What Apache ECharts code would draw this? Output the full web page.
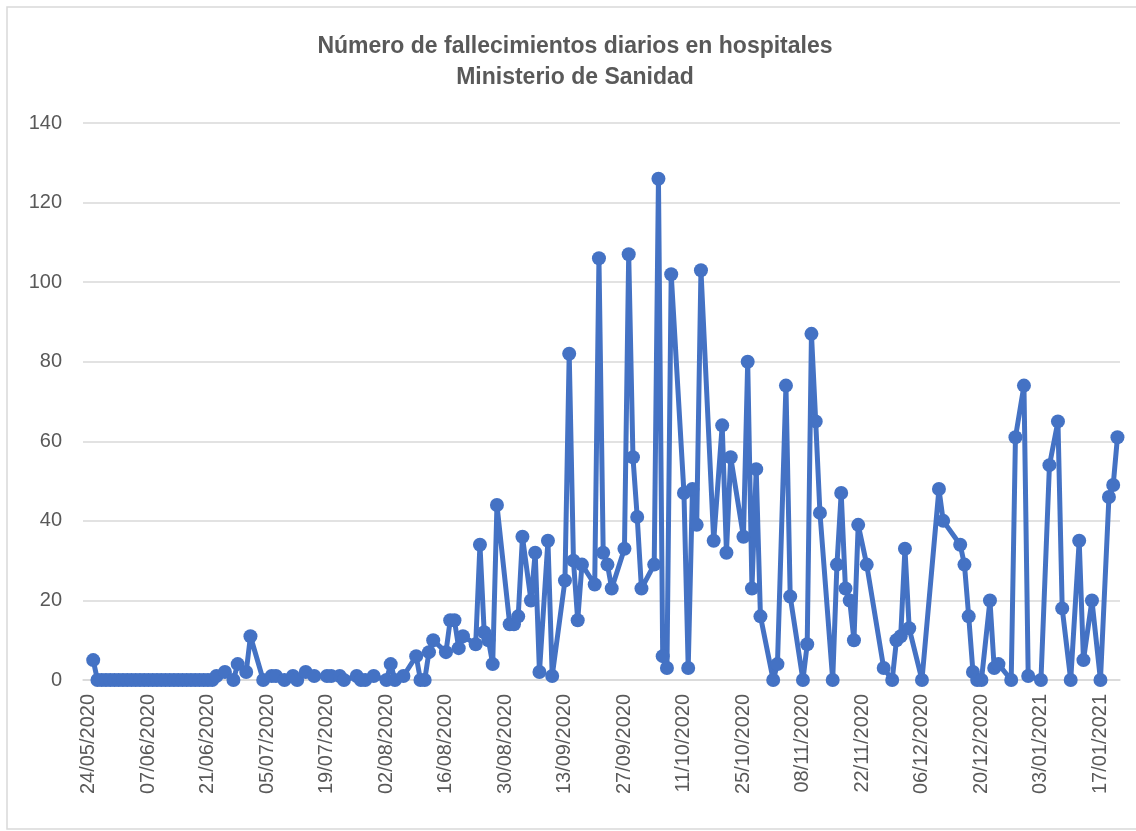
<!DOCTYPE html>
<html>
<head>
<meta charset="utf-8">
<script src="https://cdn.jsdelivr.net/npm/echarts@6/dist/echarts.min.js"></script>
<style>
html,body{margin:0;padding:0;background:#fff;}
#chart{width:1136px;height:831px;}
</style>
</head>
<body>
<div id="chart"></div>
<script>
// ---- DATA ----
var titleText = 'Número de fallecimientos diarios en hospitales';
var subtitleText = 'Ministerio de Sanidad';
var axisStartDate = '24/05/2020';
var tickLabels = ['24/05/2020','07/06/2020','21/06/2020','05/07/2020','19/07/2020','02/08/2020',
  '16/08/2020','30/08/2020','13/09/2020','27/09/2020','11/10/2020','25/10/2020','08/11/2020',
  '22/11/2020','06/12/2020','20/12/2020','03/01/2021','17/01/2021'];
var yTicks = [0, 20, 40, 60, 80, 100, 120, 140];

var dates = [
  '25/05/2020','26/05/2020','27/05/2020','28/05/2020','29/05/2020','30/05/2020','31/05/2020',
  '01/06/2020','02/06/2020','03/06/2020','04/06/2020','05/06/2020','06/06/2020','07/06/2020',
  '08/06/2020','09/06/2020','10/06/2020','11/06/2020','12/06/2020','13/06/2020','14/06/2020',
  '15/06/2020','16/06/2020','17/06/2020','18/06/2020','19/06/2020','20/06/2020','21/06/2020',
  '22/06/2020','23/06/2020','25/06/2020','27/06/2020','28/06/2020','30/06/2020',
  '01/07/2020','04/07/2020','06/07/2020','07/07/2020','09/07/2020','11/07/2020','12/07/2020',
  '14/07/2020','16/07/2020','19/07/2020','20/07/2020','22/07/2020','23/07/2020','26/07/2020',
  '27/07/2020','28/07/2020','30/07/2020',
  '02/08/2020','03/08/2020','04/08/2020','06/08/2020','09/08/2020','10/08/2020','11/08/2020',
  '12/08/2020','13/08/2020','16/08/2020','17/08/2020','18/08/2020','19/08/2020','20/08/2020',
  '23/08/2020','24/08/2020','25/08/2020','26/08/2020','27/08/2020','28/08/2020','31/08/2020',
  '01/09/2020','02/09/2020','03/09/2020','05/09/2020','06/09/2020','07/09/2020','09/09/2020',
  '10/09/2020','13/09/2020','14/09/2020','15/09/2020','16/09/2020','17/09/2020','20/09/2020',
  '21/09/2020','22/09/2020','23/09/2020','24/09/2020','27/09/2020','28/09/2020','29/09/2020',
  '30/09/2020',
  '01/10/2020','04/10/2020','05/10/2020','06/10/2020','07/10/2020','08/10/2020','11/10/2020',
  '12/10/2020','13/10/2020','14/10/2020','15/10/2020','18/10/2020','20/10/2020','21/10/2020',
  '22/10/2020','25/10/2020','26/10/2020','27/10/2020','28/10/2020','29/10/2020',
  '01/11/2020','02/11/2020','04/11/2020','05/11/2020','08/11/2020','09/11/2020','10/11/2020',
  '11/11/2020','12/11/2020','15/11/2020','16/11/2020','17/11/2020','18/11/2020','19/11/2020',
  '20/11/2020','21/11/2020','23/11/2020','27/11/2020','29/11/2020','30/11/2020',
  '01/12/2020','02/12/2020','03/12/2020','06/12/2020','10/12/2020','11/12/2020','15/12/2020',
  '16/12/2020','17/12/2020','18/12/2020','19/12/2020','20/12/2020','22/12/2020','23/12/2020',
  '24/12/2020','27/12/2020','28/12/2020','30/12/2020','31/12/2020',
  '03/01/2021','05/01/2021','07/01/2021','08/01/2021','10/01/2021','12/01/2021','13/01/2021',
  '15/01/2021','17/01/2021','19/01/2021','20/01/2021','21/01/2021'
];
var deaths = [
  5,0,0,0,0,0,0,
  0,0,0,0,0,0,0,
  0,0,0,0,0,0,0,
  0,0,0,0,0,0,0,
  0,1,2,0,4,2,
  11,0,1,1,0,1,0,
  2,1,1,1,1,0,1,
  0,0,1,
  0,4,0,1,6,0,0,
  7,10,7,15,15,8,11,
  9,34,12,10,4,44,14,
  14,16,36,20,32,2,35,
  1,25,82,30,15,29,24,
  106,32,29,23,33,107,56,
  41,
  23,29,126,6,3,102,47,
  3,48,39,103,35,64,32,
  56,36,80,23,53,16,
  0,4,74,21,0,9,87,
  65,42,0,29,47,23,20,
  10,39,29,3,0,10,
  11,33,13,0,48,40,34,
  29,16,2,0,0,20,3,
  4,0,61,74,1,
  0,54,65,18,0,35,5,
  20,0,46,49,61
];

// ---- helpers ----
function dayIndex(s) {
  var p = s.split('/');
  var b = axisStartDate.split('/');
  var t = Date.UTC(+p[2], +p[1] - 1, +p[0]);
  var t0 = Date.UTC(+b[2], +b[1] - 1, +b[0]);
  return Math.round((t - t0) / 86400000);
}
var tickDays = tickLabels.map(dayIndex);
var labelByDay = {};
tickLabels.forEach(function (l, i) { labelByDay[tickDays[i]] = l; });
var seriesData = dates.map(function (d, i) { return [dayIndex(d), deaths[i]]; });

var FONT = '"Liberation Sans", Arial, sans-serif';
var chart = echarts.init(document.getElementById('chart'), null, {renderer: 'canvas'});
chart.setOption({
  animation: false,
  backgroundColor: '#ffffff',
  title: {
    text: titleText + '\n' + subtitleText,
    left: 570,
    top: 26,
    textAlign: 'center',
    textStyle: {
      fontFamily: FONT, fontSize: 23, fontWeight: 'bold', color: '#595959', lineHeight: 31,
      align: 'center'
    }
  },
  graphic: [{
    type: 'rect',
    shape: {x: 7, y: 7, width: 1150, height: 822},
    style: {fill: 'none', stroke: '#d9d9d9', lineWidth: 1.5},
    silent: true
  }],
  grid: {left: 83, right: 16, top: 123, bottom: 151, containLabel: false},
  xAxis: {
    type: 'value',
    min: -1.4,
    max: 242.6,
    splitLine: {show: false},
    axisLine: {show: true, onZero: false, lineStyle: {color: '#d9d9d9', width: 1.5}},
    axisTick: {show: false},
    axisLabel: {
      customValues: tickDays,
      rotate: 90,
      margin: 14,
      fontFamily: FONT, fontSize: 20, color: '#595959',
      formatter: function (v) { return labelByDay[Math.round(v)] || ''; }
    }
  },
  yAxis: {
    type: 'value',
    min: yTicks[0],
    max: yTicks[yTicks.length - 1],
    interval: yTicks[1] - yTicks[0],
    axisLine: {show: false},
    axisTick: {show: false},
    splitLine: {lineStyle: {color: '#d9d9d9', width: 1.5}},
    axisLabel: {margin: 21, fontFamily: FONT, fontSize: 20, color: '#595959'}
  },
  series: [{
    type: 'line',
    data: seriesData,
    symbol: 'circle',
    symbolSize: 14,
    showAllSymbol: true,
    lineStyle: {color: '#4472C4', width: 5, join: 'round'},
    itemStyle: {color: '#4472C4'},
    clip: false
  }]
});
</script>
</body>
</html>
